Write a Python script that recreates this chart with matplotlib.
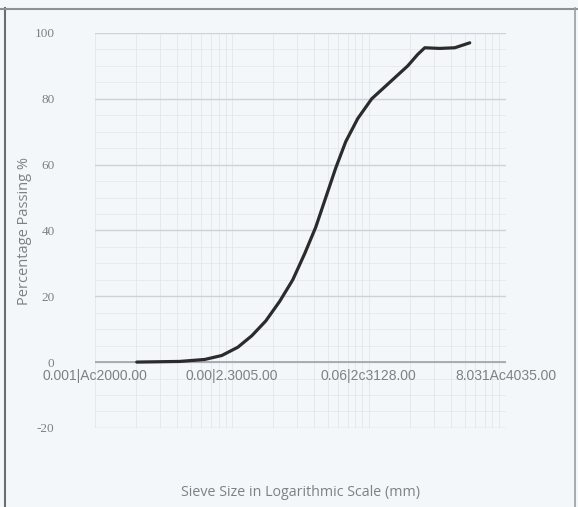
import matplotlib
matplotlib.use("Agg")
import matplotlib.pyplot as plt
from matplotlib.lines import Line2D
import numpy as np

# Data
sieve_mm = [0.002025, 0.004173, 0.006353, 0.008453, 0.01106, 0.01400, 0.01771,
            0.02241, 0.02788, 0.03410, 0.04102, 0.04854, 0.05742, 0.06794,
            0.08311, 0.1051, 0.1423, 0.1926, 0.2279, 0.2563, 0.3298, 0.4242, 0.5460]
passing = [0, 0.2, 0.8, 2, 4.5, 8, 12.5, 18.5, 25, 33, 41, 50, 59, 67,
           74, 80, 85, 90, 93.5, 95.5, 95.3, 95.5, 97]
x_ticks = [0.001, 0.01, 0.1, 1.0]
x_tick_labels = ["0.001|Ac2000.00", "0.00|2.3005.00", "0.06|2c3128.00", "8.031Ac4035.00"]
y_ticks = [-20, 0, 20, 40, 60, 80, 100]

bg = "#f3f7fa"
txt = "#7c8186"
fig = plt.figure(figsize=(5.78, 5.07), dpi=100, facecolor=bg)
ax = fig.add_axes([0.164, 0.156, 0.711, 0.779], facecolor=bg)
ax.set_xscale("log")
ax.set_xlim(0.001, 1.0)
ax.set_ylim(-20, 100)

# grid
for y in y_ticks:
    ax.axhline(y, color="#ccd2d7", lw=1.0, zorder=1)
for y in np.arange(-20, 100, 5):
    ax.axhline(y, color="#e4e9ed", lw=0.6, zorder=0)
minor = [m * 10.0**e for e in range(-3, 0) for m in range(1, 10)] + [1.0]
for xv in minor:
    ax.axvline(xv, color="#e2e7eb", lw=0.6, zorder=0)
ax.axhline(0, color="#a3a9ae", lw=1.3, zorder=1)

ax.plot(sieve_mm, passing, color="#2b2b2b", lw=2.3, zorder=3,
        solid_capstyle="round", solid_joinstyle="round")

for s in ["top", "right", "left", "bottom"]:
    ax.spines[s].set_visible(False)

ax.set_yticks(y_ticks)
ax.set_yticklabels([str(v) for v in y_ticks], fontsize=9.5, color=txt,
                   family="Liberation Serif")
ax.tick_params(axis="y", length=0, pad=29)
ax.set_xticks(x_ticks)
ax.set_xticks([], minor=True)
ax.tick_params(axis="x", which="both", length=0)
ax.set_xticklabels([])
for xv, lab in zip(x_ticks, x_tick_labels):
    ax.text(xv, -4.3, lab, ha="center", va="center", fontsize=10, color=txt,
            family="Liberation Sans")

fig.text(0.043, 0.545, "Percentage Passing %", rotation=90, ha="center", va="center",
         fontsize=10.5, color=txt, family="Open Sans")
fig.text(0.52, 0.028, "Sieve Size in Logarithmic Scale (mm)", ha="center", va="center",
         fontsize=10.3, color=txt, family="Open Sans")

# outer frame
fig.add_artist(Line2D([0.008, 0.008], [0.0, 0.985], color="#6a6e72", lw=1.5, transform=fig.transFigure))
fig.add_artist(Line2D([0.0, 1.0], [0.982, 0.982], color="#8d9196", lw=1.5, transform=fig.transFigure))
fig.add_artist(Line2D([0.995, 0.995], [0.0, 0.985], color="#9a9ea2", lw=1.2, transform=fig.transFigure))

fig.savefig("out.png", dpi=100, facecolor=bg)
